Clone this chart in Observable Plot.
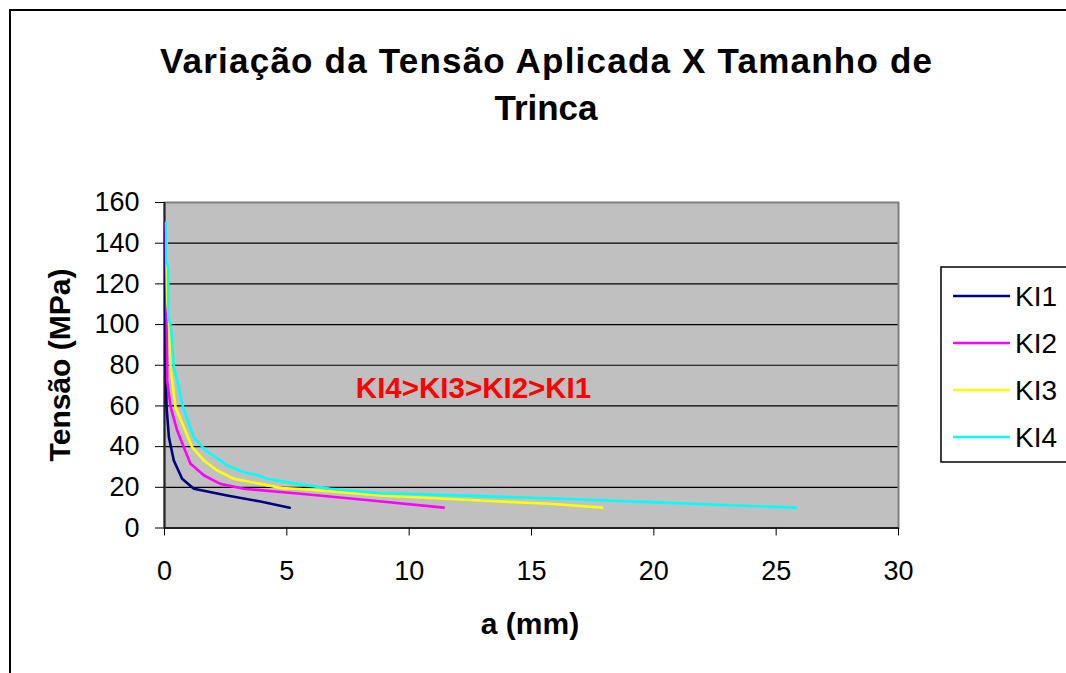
<!DOCTYPE html>
<html>
<head>
<meta charset="utf-8">
<script src="https://cdn.jsdelivr.net/npm/d3@7"></script>
<script src="https://cdn.jsdelivr.net/npm/@observablehq/plot@0.6"></script>
<style>
  html, body { margin: 0; padding: 0; background: white; }
  #chart { width: 1066px; height: 673px; overflow: hidden; }
</style>
</head>
<body>
<div id="chart"></div>
<script>
const titleLines = ["Variação da Tensão Aplicada X Tamanho de", "Trinca"];
const xLabel = "a (mm)";
const yLabel = "Tensão (MPa)";
const annotation = "KI4>KI3>KI2>KI1";
const xTicks = [0, 5, 10, 15, 20, 25, 30];
const yTicks = [0, 20, 40, 60, 80, 100, 120, 140, 160];
const seriesNames = ["KI1", "KI2", "KI3", "KI4"];
const seriesColors = ["#000080", "#FF00FF", "#FFFF00", "#00FFFF"];

// KI1
const ki1A = [0.02, 0.03, 0.04, 0.05, 0.08, 0.18, 0.38, 0.72, 1.2, 2.56, 3.92, 5.12];
const ki1S = [150, 120, 100, 85.6, 60.2, 44.6, 33.2, 24.2, 19.3, 16.0, 13.0, 10];
// KI2
const ki2A = [0.05, 0.06, 0.08, 0.10, 0.11, 0.25, 0.52, 0.79, 1.06, 1.62, 2.28, 3.24, 5.55, 8.14, 11.41];
const ki2S = [150, 135, 110, 90, 72.5, 59.4, 47.9, 39.7, 31.6, 25.8, 21.7, 19.3, 16.8, 13.9, 10];
// KI3
const ki3A = [0.07, 0.09, 0.12, 0.18, 0.25, 0.45, 0.79, 1.13, 1.61, 2.15, 2.83, 3.92, 4.8, 5.55, 8.82, 12.9, 15.76, 17.89];
const ki3S = [150, 130, 110, 102, 79, 59.4, 49.6, 39.7, 33.2, 28.3, 24.2, 21.7, 19.6, 19.2, 16.0, 13.5, 11.9, 10];
// KI4
const ki4A = [0.07, 0.08, 0.15, 0.16, 0.26, 0.38, 0.52, 0.76, 1.2, 1.68, 2.29, 2.56, 3.24, 3.85, 4.2, 5.42, 6.78, 8.82, 11.28, 16.18, 19.8, 25.8];
const ki4S = [150, 131, 128, 104, 99, 79, 72.5, 59.4, 44.6, 38.1, 33.2, 30.7, 27.4, 25.8, 24.2, 21.7, 19.3, 17.1, 16.3, 14.4, 12.7, 10];

const allA = [ki1A, ki2A, ki3A, ki4A];
const allS = [ki1S, ki2S, ki3S, ki4S];
const rows = [];
seriesNames.forEach((name, i) => {
  allA[i].forEach((a, j) => rows.push({series: name, a, s: allS[i][j]}));
});

const FONT = "'Liberation Sans', Arial, Helvetica, sans-serif";

const plot = Plot.plot({
  width: 1066,
  height: 673,
  marginLeft: 164,
  marginRight: 168,
  marginTop: 202,
  marginBottom: 145.5,
  style: {fontFamily: FONT, background: "white", color: "black", overflow: "visible"},
  x: {domain: [0, 30]},
  y: {domain: [0, 160]},
  color: {domain: seriesNames, range: seriesColors},
  marks: [
    Plot.frame({fill: "#C0C0C0", stroke: "none"}),
    Plot.gridY(yTicks.slice(1, -1), {stroke: "black", strokeOpacity: 1, strokeWidth: 1.2}),
    Plot.frame({stroke: "#808080", strokeWidth: 2, fill: "none"}),
    Plot.ruleX([0], {stroke: "#222", strokeWidth: 2}),
    Plot.ruleY([0], {stroke: "#222", strokeWidth: 2}),
    Plot.axisX({ticks: xTicks, tickSize: 8, tickPadding: 25, fontSize: 27, label: null, tickFormat: d => String(d)}),
    Plot.axisY({ticks: yTicks, tickSize: 9, tickPadding: 16, fontSize: 27, label: null, tickFormat: d => String(d)}),
    Plot.line(rows, {x: "a", y: "s", z: "series", stroke: "series", strokeWidth: 2.6, curve: "linear"}),
    Plot.text([annotation], {x: () => 12.63, y: () => 68.7, text: d => d, fill: "#FF0000", fontSize: 29.5, fontWeight: "bold", textAnchor: "middle"})
  ]
});

document.getElementById("chart").appendChild(plot);
const svg = d3.select(plot);

// outer chart border
svg.insert("rect", ":first-child")
  .attr("x", 10).attr("y", 10).attr("width", 1120).attr("height", 720)
  .attr("fill", "white").attr("stroke", "black").attr("stroke-width", 2);

// title
svg.append("text")
  .attr("x", 546).attr("y", 73).attr("text-anchor", "middle")
  .attr("font-family", FONT).attr("font-size", 35).attr("font-weight", "bold")
  .attr("textLength", 772).attr("lengthAdjust", "spacing")
  .text(titleLines[0]);
svg.append("text")
  .attr("x", 546).attr("y", 120).attr("text-anchor", "middle")
  .attr("font-family", FONT).attr("font-size", 35).attr("font-weight", "bold")
  .text(titleLines[1]);

// axis titles
svg.append("text")
  .attr("x", 530).attr("y", 634).attr("text-anchor", "middle")
  .attr("font-family", FONT).attr("font-size", 30).attr("font-weight", "bold")
  .text(xLabel);
svg.append("text")
  .attr("transform", "translate(70,365) rotate(-90)").attr("text-anchor", "middle")
  .attr("font-family", FONT).attr("font-size", 30).attr("font-weight", "bold")
  .text(yLabel);

// legend
const lg = svg.append("g");
lg.append("rect").attr("x", 941).attr("y", 267).attr("width", 150).attr("height", 195)
  .attr("fill", "white").attr("stroke", "black").attr("stroke-width", 1.5);
seriesNames.forEach((name, i) => {
  const y = 296 + i * 47;
  lg.append("line").attr("x1", 953).attr("x2", 1010).attr("y1", y).attr("y2", y)
    .attr("stroke", seriesColors[i]).attr("stroke-width", 2.6);
  lg.append("text").attr("x", 1015).attr("y", y + 10).attr("text-anchor", "start")
    .attr("font-family", FONT).attr("font-size", 28).text(name);
});
</script>
</body>
</html>
